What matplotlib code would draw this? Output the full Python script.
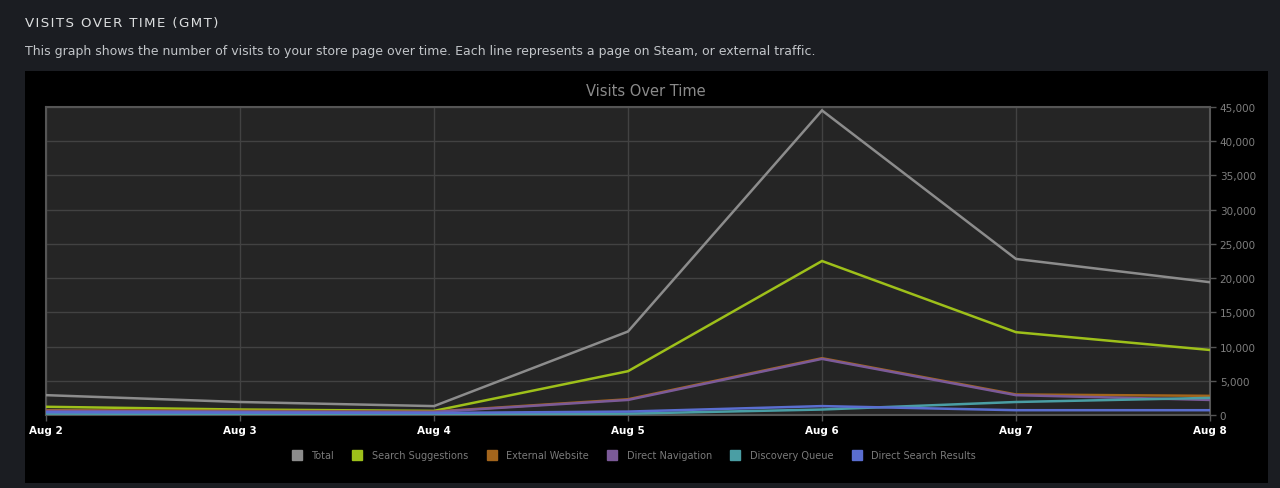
import matplotlib
matplotlib.use("Agg")
import matplotlib.pyplot as plt
from matplotlib.patches import Rectangle
from matplotlib.ticker import FuncFormatter, MultipleLocator
from matplotlib.lines import Line2D
from matplotlib import font_manager

dates = ["Aug 2", "Aug 3", "Aug 4", "Aug 5", "Aug 6", "Aug 7", "Aug 8"]
total = [2900, 1900, 1300, 12200, 44500, 22800, 19400]
search_suggestions = [1200, 800, 600, 6400, 22500, 12100, 9500]
external_website = [700, 600, 500, 2300, 8300, 3000, 2800]
direct_navigation = [600, 500, 450, 2200, 8200, 2900, 2200]
discovery_queue = [200, 150, 100, 200, 800, 1900, 2500]
direct_search_results = [400, 350, 300, 500, 1300, 700, 700]

series_names = ["Total", "Search Suggestions", "External Website",
                "Direct Navigation", "Discovery Queue", "Direct Search Results"]
series_values = [total, search_suggestions, external_website,
                 direct_navigation, discovery_queue, direct_search_results]
series_colors = ["#8c8c8c", "#9ec01a", "#a3651c", "#7b5a98", "#4a9ea4", "#5a6ed0"]

W, H = 1280, 489
fig = plt.figure(figsize=(W / 100, H / 100), dpi=100)
fig.patch.set_facecolor("#1b1d22")

installed = {f.name for f in font_manager.fontManager.ttflist}
narrow = [f for f in ["Liberation Sans Narrow", "DejaVu Sans Condensed"] if f in installed] + ["DejaVu Sans"]

# black chart panel
fig.patches.append(Rectangle((25 / W, 1 - 484 / H), (1268 - 25) / W, (484 - 72) / H,
                             transform=fig.transFigure, facecolor="#000000",
                             edgecolor="none", zorder=-10))

header = "VISITS OVER TIME (GMT)"
fig.text(25 / W, 1 - 23 / H, "\u200a".join(header),
         color="#dcdedf", fontsize=9.6, va="center", ha="left", family=["DejaVu Sans"])
fig.text(25 / W, 1 - 52 / H,
         "This graph shows the number of visits to your store page over time. Each line represents a page on Steam, or external traffic.",
         color="#c2c5c9", fontsize=9.0, va="center", ha="left", family=["DejaVu Sans"])
fig.text(646 / W, 1 - 92 / H, "Visits Over Time", color="#8a8a8a", fontsize=10.5,
         va="center", ha="center", family=narrow)

ax = fig.add_axes([46 / W, 1 - 416 / H, (1210 - 46) / W, (416 - 108) / H])
ax.set_facecolor("#252525")
x = list(range(len(dates)))
for name, vals, col in zip(series_names, series_values, series_colors):
    ax.plot(x, vals, color=col, lw=1.8, solid_joinstyle="miter", zorder=3)

ax.set_xlim(0, len(dates) - 1)
ax.set_ylim(0, 45000)
ax.yaxis.set_major_locator(MultipleLocator(5000))
ax.yaxis.tick_right()
ax.yaxis.set_major_formatter(FuncFormatter(lambda v, p: f"{int(v):,}"))
ax.set_xticks(x)
ax.set_xticklabels(dates)
ax.tick_params(axis="y", colors="#555555", labelcolor="#7e7e7e", labelsize=7.5,
               length=4, width=1, pad=3)
ax.tick_params(axis="x", colors="#555555", labelcolor="#ffffff", labelsize=7.5,
               length=4, width=1, pad=3)
for lab in ax.get_xticklabels() + ax.get_yticklabels():
    lab.set_family(narrow)
for lab in ax.get_xticklabels():
    lab.set_fontweight("bold")
ax.grid(True, color="#424242", lw=1, zorder=1)
ax.set_axisbelow(True)
for s in ax.spines.values():
    s.set_color("#555555")
    s.set_linewidth(1.5)

handles = [Line2D([], [], marker="s", ls="none", markersize=7.5, markerfacecolor=c,
                  markeredgecolor=c) for c in series_colors]
leg = fig.legend(handles, series_names, loc="center", bbox_to_anchor=(634 / W, 1 - 456 / H),
                 ncol=6, frameon=False, labelcolor="#7a7a7a",
                 handletextpad=1.0, columnspacing=1.9, handlelength=1.0,
                 prop={"family": narrow, "size": 7})

fig.savefig("out.png", dpi=100, facecolor=fig.get_facecolor())
